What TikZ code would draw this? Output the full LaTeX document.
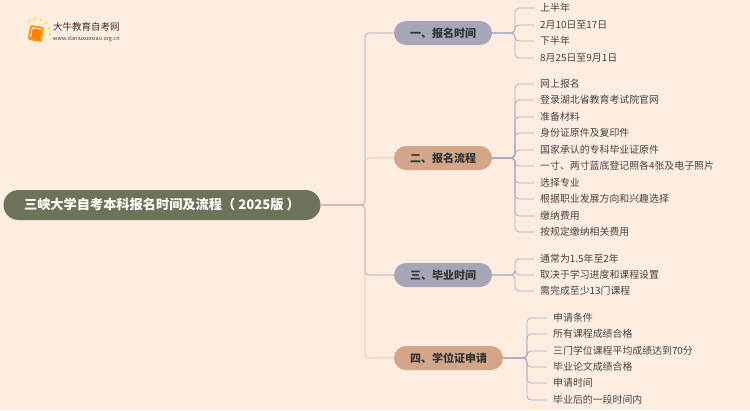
\documentclass[tikz,border=0pt]{standalone}
\usepackage{fontspec}
\setmainfont{Noto Sans CJK SC}
\begin{document}
\begin{tikzpicture}[x=1pt,y=-1pt,
  rootbox/.style={fill=rootc,rounded corners=15pt,minimum width=317pt,minimum height=30pt,text=white,font=\fontsize{13.2}{14}\selectfont\bfseries},
  brbox/.style={rounded corners=12pt,minimum height=24pt,minimum width=98pt,text=brtext,font=\fontsize{11}{12}\selectfont\bfseries},
  leaf/.style={anchor=west,inner sep=0pt,text=leaftext,font=\fontsize{9.9}{11}\selectfont},
  lin/.style={line width=0.8pt,rounded corners=4pt},
]
\definecolor{bgc}{HTML}{FDEDE1}
\definecolor{rootc}{HTML}{6C7358}
\definecolor{grayb}{HTML}{A6A6B8}
\definecolor{tanb}{HTML}{D3A68A}
\definecolor{brtext}{HTML}{333333}
\definecolor{leaftext}{HTML}{444444}
\definecolor{bluel}{HTML}{A8ACC4}
\definecolor{tanl}{HTML}{E2B9A0}
\fill[bgc] (0,0) rectangle (750,410);
\useasboundingbox (0,0) rectangle (750,410);
% logo
\fill[orange!85!yellow,rounded corners=1.5pt,rotate around={-10:(36,33)}] (29,26) rectangle (43,41);
\fill[white,rotate around={-10:(36,33)}] (31,28) rectangle (41,38);
\fill[orange,rotate around={-10:(36,33)}] (32,29) rectangle (41,39);
\foreach \a in {110,135,160,185,85,60} \fill[yellow!80!orange] (36,33)++(\a:-14) circle (1.3pt);
\node[anchor=west,inner sep=0pt,font=\fontsize{9.5}{10}\selectfont,text=brtext] (logo) at (53,27) {大牛教育自考网};
\node[anchor=west,inner sep=0pt,font=\fontsize{5.5}{6}\selectfont,text=leaftext] (url) at (53,39) {www.daniuxuexiao.org.cn};
% nodes
\node[rootbox] (root) at (162,205) {三峡大学自考本科报名时间及流程（ 2025版 ）};
\node[brbox,fill=grayb] (b1) at (443,33) {一、报名时间};
\node[brbox,fill=tanb] (b2) at (443,158) {二、报名流程};
\node[brbox,fill=grayb] (b3) at (443,275) {三、毕业时间};
\node[brbox,fill=tanb,minimum width=109pt] (b4) at (448.5,358) {四、学位证申请};
\coordinate (t) at (365,205);
\draw[lin,grayb] (root.east) -- (t) |- (b1.west);
\draw[lin,tanl] (root.east) -- (t) |- (b2.west);
\draw[lin,grayb] (root.east) -- (t) |- (b3.west);
\draw[lin,tanl] (root.east) -- (t) |- (b4.west);
% leaves
\newcommand{\leaves}[4]{%
  \foreach \yy/\tt [count=\i] in {#4} {
    \node[leaf] (#1l\i) at (#3,\yy) {\tt};
    \draw[lin,bluel] (#1.east) -- (#2-8,0 |- #1.east) -- (#2,0 |- #1.east) |- ([xshift=-6pt]#1l\i.west);
  }}
\leaves{b1}{515}{540}{8/上半年,25/2月10日至17日,41/下半年,58/8月25日至9月1日}
\leaves{b2}{515}{540}{84/网上报名,100/登录湖北省教育考试院官网,117/准备材料,133/身份证原件及复印件,150/国家承认的专科毕业证原件,166/一寸、两寸蓝底登记照各4张及电子照片,183/选择专业,199/根据职业发展方向和兴趣选择,216/缴纳费用,232/按规定缴纳相关费用}
\leaves{b3}{515}{540}{259/通常为1.5年至2年,275/取决于学习进度和课程设置,291/需完成至少13门课程}
\leaves{b4}{527}{553}{318/申请条件,334/所有课程成绩合格,351/三门学位课程平均成绩达到70分,367/毕业论文成绩合格,383/申请时间,400/毕业后的一段时间内}
\end{tikzpicture}
\end{document}
